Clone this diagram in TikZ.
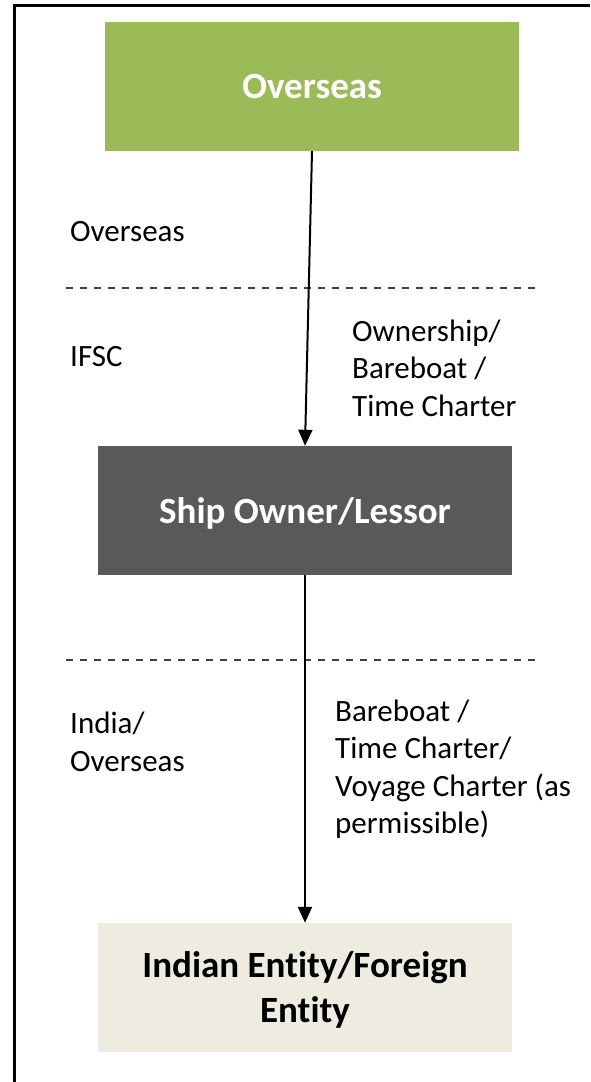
\documentclass[tikz,border=0pt]{standalone}
\usepackage{fontspec}
\setmainfont{Carlito}[Ligatures=NoCommon]
\usetikzlibrary{arrows.meta}
\definecolor{boxgreen}{HTML}{9BBB59}
\definecolor{boxgrey}{HTML}{595959}
\definecolor{boxbeige}{HTML}{EEECE1}
\begin{document}
\begin{tikzpicture}[x=1pt,y=-1pt,
		box/.style={minimum width=414pt, minimum height=129pt, inner sep=0pt, align=center,
			text depth=0pt, font=\fontsize{37}{45}\selectfont\bfseries},
		lbl/.style={anchor=west, inner sep=0pt, align=left, font=\fontsize{31}{37.5}\selectfont},
		flow/.style={line width=2pt, -{Triangle[width=14pt,length=16pt]}},
		sep/.style={line width=1.3pt, black!75, dash pattern=on 7pt off 7pt}]
			\useasboundingbox (0,0) rectangle (590,1082);
			\draw [line width=3pt] (14,1082) -- (14,5) -- (590,5);
			\node [box, fill=boxgreen, text=white] (overseas) at (312,86.5) {Overseas};
			\node [box, fill=boxgrey, text=white] (owner) at (305,510.5) {Ship Owner/Lessor};
			\node [box, fill=boxbeige, text=black] (entity) at (305,987.5) {Indian Entity/Foreign\\Entity};
			\draw [sep] (66,288) -- (537,288);
			\draw [sep] (66,660) -- (537,660);
			\node [lbl] (zoneover) at (70,232) {Overseas};
			\node [lbl] (zoneifsc) at (70,357) {IFSC};
			\node [lbl] (zoneindia) at (70,742) {India/\\Overseas};
			\draw [flow] (overseas.south) -- (owner.north);
			\node [lbl] (leaseup) at (352,368) {Ownership/\\Bareboat /\\Time Charter};
			\draw [flow] (owner.south) -- (entity.north);
			\node [lbl] (leasedown) at (335,769) {Bareboat /\\Time Charter/\\Voyage Charter (as\\permissible)};
		\end{tikzpicture}
\end{document}
